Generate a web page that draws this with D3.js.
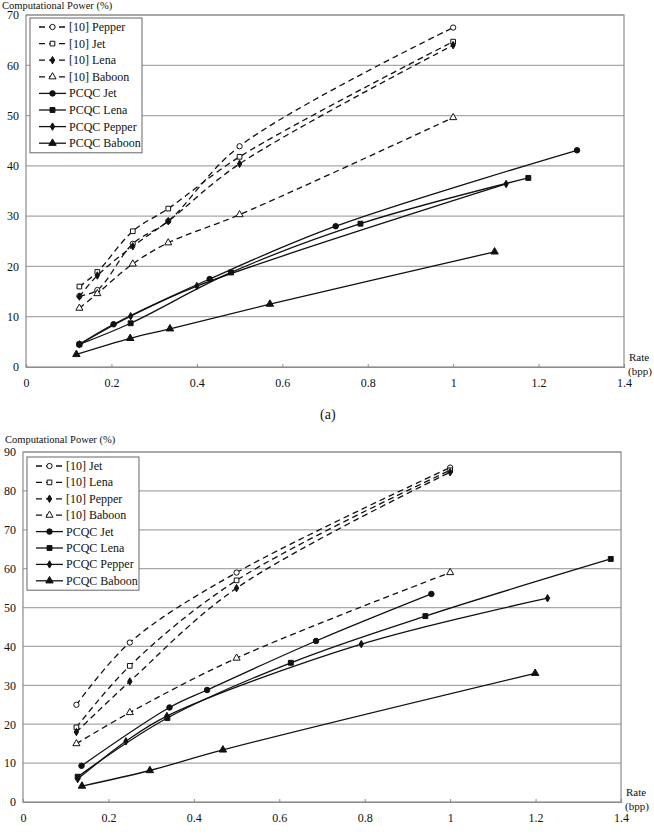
<!DOCTYPE html>
<html>
<head>
<meta charset="utf-8">
<script src="https://cdn.jsdelivr.net/npm/d3@7"></script>
<style>
  body { margin: 0; background: #fff; }
  svg text { font-family: "Liberation Serif", "Times New Roman", "DejaVu Serif", serif; fill: #111; }
</style>
</head>
<body>
<svg id="chart" width="654" height="840"></svg>
<script>
// ---- data ----
const rateTicks = [0, 0.2, 0.4, 0.6, 0.8, 1, 1.2, 1.4];

// (a) top chart
const topNames = ["[10] Pepper", "[10] Jet", "[10] Lena", "[10] Baboon",
                  "PCQC Jet", "PCQC Lena", "PCQC Pepper", "PCQC Baboon"];
const topPepper10 = [[0.125, 14.1], [0.167, 15.3], [0.25, 24.5], [0.333, 29.0], [0.5, 43.9], [1, 67.5]];
const topJet10    = [[0.125, 16.0], [0.167, 18.9], [0.25, 27.0], [0.333, 31.5], [0.5, 41.8], [1, 64.7]];
const topLena10   = [[0.125, 14.0], [0.167, 18.2], [0.25, 24.0], [0.333, 29.0], [0.5, 40.4], [1, 64.0]];
const topBaboon10 = [[0.125, 11.7], [0.167, 14.6], [0.25, 20.5], [0.333, 24.7], [0.5, 30.3], [1, 49.6]];
const topJetPcqc    = [[0.125, 4.5], [0.205, 8.5], [0.43, 17.5], [0.725, 28.0], [1.29, 43.1]];
const topLenaPcqc   = [[0.125, 4.5], [0.245, 8.7], [0.48, 18.8], [0.783, 28.5], [1.176, 37.6]];
const topPepperPcqc = [[0.125, 4.5], [0.245, 10.1], [0.40, 16.1], [1.124, 36.4]];
const topBaboonPcqc = [[0.118, 2.5], [0.244, 5.7], [0.337, 7.6], [0.571, 12.5], [1.097, 22.9]];

// (b) bottom chart
const botNames = ["[10] Jet", "[10] Lena", "[10] Pepper", "[10] Baboon",
                  "PCQC Jet", "PCQC Lena", "PCQC Pepper", "PCQC Baboon"];
const botJet10    = [[0.125, 25.0], [0.25, 41.0], [0.5, 59.0], [1, 86.0]];
const botLena10   = [[0.125, 19.2], [0.25, 35.0], [0.5, 57.0], [1, 85.3]];
const botPepper10 = [[0.125, 18.0], [0.25, 31.0], [0.5, 55.0], [1, 84.8]];
const botBaboon10 = [[0.125, 15.0], [0.25, 23.0], [0.5, 37.0], [1, 59.0]];
const botJetPcqc    = [[0.137, 9.3], [0.343, 24.3], [0.431, 28.8], [0.686, 41.4], [0.956, 53.5]];
const botLenaPcqc   = [[0.128, 6.5], [0.338, 21.6], [0.627, 35.8], [0.942, 47.8], [1.376, 62.5]];
const botPepperPcqc = [[0.128, 5.9], [0.241, 15.6], [0.337, 22.1], [0.792, 40.6], [1.228, 52.4]];
const botBaboonPcqc = [[0.138, 4.1], [0.297, 8.1], [0.468, 13.4], [1.199, 33.1]];

// marker per legend slot (same order in both charts)
const shapes = [d3.symbolCircle, d3.symbolSquare, d3.symbolDiamond, d3.symbolTriangle,
                d3.symbolCircle, d3.symbolSquare, d3.symbolDiamond, d3.symbolTriangle];
const openMarker = [true, true, false, true, false, false, false, false];
const markerSize = [22, 22, 16, 22, 24, 24, 16, 24];

const svg = d3.select("#chart");

function drawChart(opt) {
    const g = svg.append("g");
    const x = d3.scaleLinear().domain([0, 1.4]).range([opt.left, opt.right]);
    const y = d3.scaleLinear().domain([0, opt.yMax]).range([opt.bottom, opt.top]);

    // horizontal grid
    g.selectAll("line.grid")
        .data(y.ticks(opt.yMax / 10).filter(d => d > 0))
        .join("line")
        .attr("x1", opt.left).attr("x2", opt.right)
        .attr("y1", d => y(d)).attr("y2", d => y(d))
        .attr("stroke", "#a8a8a8").attr("stroke-width", 1.2);

    // plot frame
    g.append("rect")
        .attr("x", opt.left).attr("y", opt.top)
        .attr("width", opt.right - opt.left).attr("height", opt.bottom - opt.top)
        .attr("fill", "none").attr("stroke", "#8c8c8c").attr("stroke-width", 1.2);

    // x axis: small ticks pointing up
    const xAxis = g.append("g")
        .attr("transform", `translate(0,${opt.bottom})`)
        .call(d3.axisBottom(x).tickValues(rateTicks).tickSize(-3).tickPadding(11)
            .tickFormat(d3.format("~g")));
    xAxis.attr("font-family", null);
    xAxis.select(".domain").attr("stroke", "#8c8c8c").attr("stroke-width", 1.2);
    xAxis.selectAll(".tick line").attr("stroke", "#8c8c8c");
    xAxis.selectAll("text").attr("font-size", 12).attr("fill", "#111");

    // y axis labels
    const yAxis = g.append("g")
        .attr("transform", `translate(${opt.left},0)`)
        .call(d3.axisLeft(y).ticks(opt.yMax / 10).tickSize(0).tickPadding(7));
    yAxis.attr("font-family", null);
    yAxis.select(".domain").remove();
    yAxis.selectAll("text").attr("font-size", 12).attr("fill", "#111");

    g.append("text").attr("x", opt.titleX).attr("y", opt.titleY)
        .attr("font-size", 10.5).text("Computational Power (%)");
    g.append("text").attr("x", opt.right + 5).attr("y", opt.bottom - 6)
        .attr("font-size", 11).text("Rate");
    g.append("text").attr("x", opt.right + 4).attr("y", opt.bottom + 8)
        .attr("font-size", 11).text("(bpp)");

    const line = d3.line()
        .x(d => x(d[0])).y(d => y(d[1]))
        .curve(d3.curveCatmullRom.alpha(0.5));

    opt.series.forEach((pts, i) => {
        const dashed = i < 4;
        g.append("path")
            .attr("d", line(pts))
            .attr("fill", "none").attr("stroke", "#111")
            .attr("stroke-width", 1.3)
            .attr("stroke-dasharray", dashed ? "6,4" : null);
        g.selectAll(null)
            .data(pts)
            .join("path")
            .attr("transform", d => `translate(${x(d[0])},${y(d[1])})`)
            .attr("d", d3.symbol().type(shapes[i]).size(markerSize[i]))
            .attr("fill", openMarker[i] ? "#fff" : "#111")
            .attr("stroke", "#111").attr("stroke-width", 1);
    });

    // legend
    const lg = g.append("g");
    lg.append("rect")
        .attr("x", opt.legX).attr("y", opt.legY)
        .attr("width", 112).attr("height", opt.legStep * 8 + 2)
        .attr("fill", "#fff").attr("stroke", "#666").attr("stroke-width", 1);
    opt.names.forEach((name, i) => {
        const cy = opt.legY + 9 + i * opt.legStep;
        const dashed = i < 4;
        lg.append("line")
            .attr("x1", opt.legX + 9).attr("x2", opt.legX + 36)
            .attr("y1", cy).attr("y2", cy)
            .attr("stroke", "#111").attr("stroke-width", 1.3)
            .attr("stroke-dasharray", dashed ? "6,4" : null);
        lg.append("path")
            .attr("transform", `translate(${opt.legX + 22.5},${cy})`)
            .attr("d", d3.symbol().type(shapes[i]).size(markerSize[i]))
            .attr("fill", openMarker[i] ? "#fff" : "#111")
            .attr("stroke", "#111").attr("stroke-width", 1);
        lg.append("text")
            .attr("x", opt.legX + 39).attr("y", cy + 4)
            .attr("font-size", 12).text(name);
    });
}

drawChart({
    left: 26, right: 624, top: 15, bottom: 367, yMax: 70, titleX: 2, titleY: 9,
    legX: 30, legY: 18, legStep: 16.6,
    names: topNames,
    series: [topPepper10, topJet10, topLena10, topBaboon10,
             topJetPcqc, topLenaPcqc, topPepperPcqc, topBaboonPcqc]
});

svg.append("text").attr("x", 320).attr("y", 419)
    .attr("font-size", 14).text("(a)");

drawChart({
    left: 23, right: 621, top: 452, bottom: 802, yMax: 90, titleX: 5, titleY: 443,
    legX: 27, legY: 457, legStep: 16.4,
    names: botNames,
    series: [botJet10, botLena10, botPepper10, botBaboon10,
             botJetPcqc, botLenaPcqc, botPepperPcqc, botBaboonPcqc]
});
</script>
</body>
</html>
